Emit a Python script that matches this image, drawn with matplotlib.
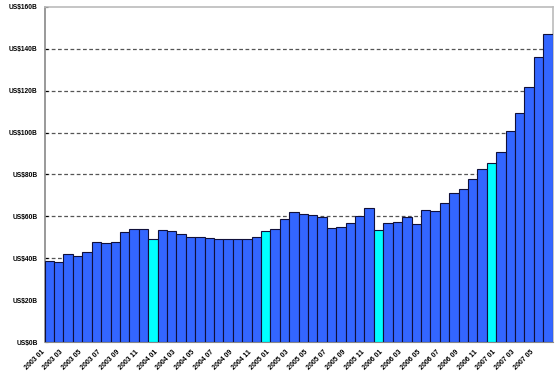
import numpy as np
import matplotlib
matplotlib.use("Agg")
import matplotlib.pyplot as plt
import matplotlib.transforms as mtransforms

# monthly values, 2003-01 .. 2007-06 (US$ billions)
months = [f"{y} {m:02d}" for y in range(2003, 2008) for m in range(1, 13)][:54]
values = [38.7, 38.2, 42.0, 41.2, 43.1, 47.7, 47.3, 47.7, 52.5, 54.1, 54.0, 49.0,
          53.3, 52.9, 51.6, 50.3, 50.3, 49.8, 49.3, 49.3, 49.3, 49.3, 50.0, 52.9,
          53.8, 58.9, 61.9, 61.3, 60.5, 59.5, 54.4, 54.9, 56.7, 60.0, 63.8, 53.6,
          56.7, 57.2, 59.5, 56.2, 63.0, 62.5, 66.5, 71.3, 73.2, 78.0, 82.6, 85.6,
          90.9, 100.6, 109.2, 121.8, 136.2, 147.1]
y_ticks = [0, 20, 40, 60, 80, 100, 120, 140, 160]
y_labels = ["US$0B", "US$20B", "US$40B", "US$60B", "US$80B",
            "US$100B", "US$120B", "US$140B", "US$160B"]

colors = ["#00FFFF" if m.endswith("12") else "#3366FF" for m in months]

fig = plt.figure(figsize=(5.6, 3.8), dpi=100)
ax = fig.add_axes([0.0798, 0.1, 0.907, 0.882])

x = np.arange(len(values))
ax.bar(x, values, width=1.0, color=colors, edgecolor="#10103a", linewidth=0.8, zorder=3)

ax.set_xlim(-0.5, len(values) - 0.5)
ax.set_ylim(0, 160)

# dashed gridlines
for t in y_ticks[1:-1]:
    ax.axhline(t, color="#555555", linewidth=0.9, linestyle=(0, (3, 2)), zorder=1)

ax.set_yticks(y_ticks)
ax.set_yticklabels(y_labels, fontsize=4.8, fontweight="bold", family="Liberation Sans")
ax.tick_params(axis="y", length=2, direction="in", pad=5, width=0.8)

ax.set_xticks(x[::2])
ax.set_xticklabels(months[::2], rotation=45, ha="right", rotation_mode="anchor",
                   fontsize=5, fontweight="bold", family="Liberation Sans")
ax.tick_params(axis="x", length=0, pad=5)
offset = mtransforms.ScaledTranslation(-6 / 72, 0, fig.dpi_scale_trans)
for lab in ax.get_xticklabels():
    lab.set_transform(lab.get_transform() + offset)

for side in ["top", "right"]:
    ax.spines[side].set_color("#bbbbbb")
    ax.spines[side].set_linewidth(1.2)
ax.spines["left"].set_color("#888888")
ax.spines["left"].set_linewidth(1.2)
ax.spines["bottom"].set_color("#888888")

fig.savefig("out.png", dpi=100)
